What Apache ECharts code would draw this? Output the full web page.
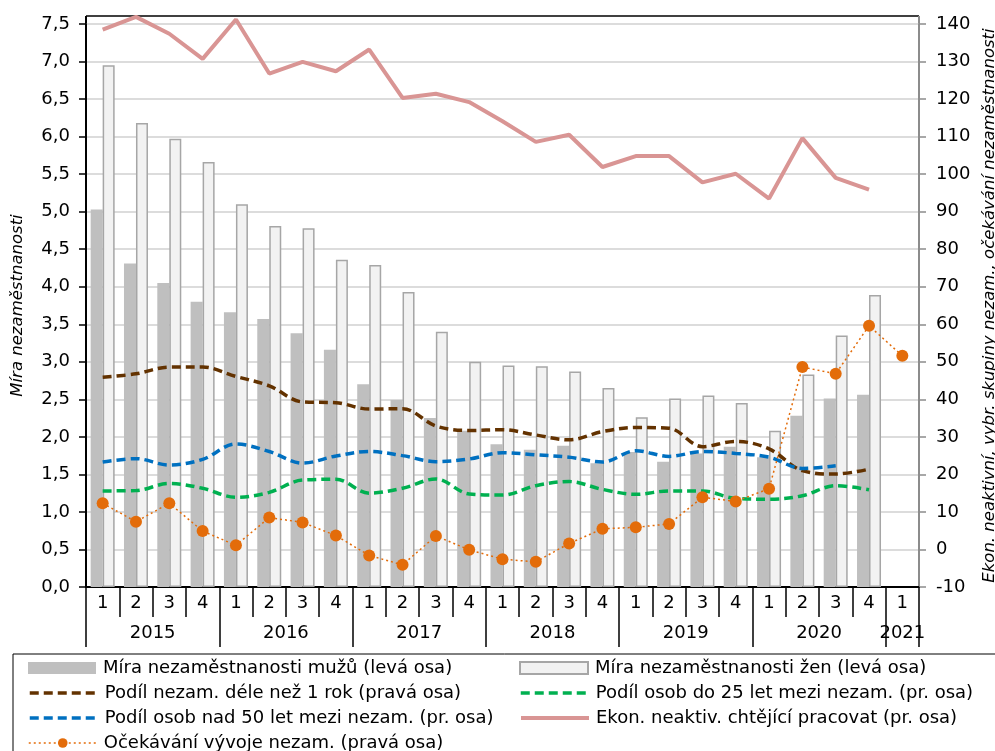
<!DOCTYPE html>
<html><head><meta charset="utf-8">
<script src="https://cdn.jsdelivr.net/npm/echarts@6/dist/echarts.min.js"></script>
<style>html,body{margin:0;padding:0;background:#fff}#c{width:995px;height:751px}</style>
</head><body><div id="c"></div>
<script>
const quarters = ["1","2","3","4","1","2","3","4","1","2","3","4","1","2","3","4","1","2","3","4","1","2","3","4","1"];
const years = ["2015","2016","2017","2018","2019","2020","2021"];
const quartersPerYear = [4,4,4,4,4,4,1];
const leftTicks = {min:0, max:7.5, interval:0.5};
const rightTicks = {min:-10, max:140, interval:10};

const menRate = [5.03,4.31,4.05,3.80,3.66,3.57,3.38,3.16,2.70,2.49,2.25,2.08,1.90,1.83,1.88,1.65,1.80,1.67,1.78,1.87,1.73,2.28,2.51,2.56,null];
const womenRate = [6.95,6.18,5.97,5.66,5.10,4.81,4.78,4.36,4.29,3.93,3.40,3.00,2.95,2.94,2.87,2.65,2.26,2.51,2.55,2.45,2.08,2.83,3.35,3.89,null];
const longTerm = [45.9,46.8,48.6,48.6,46.1,43.6,39.3,39.1,37.4,37.5,32.9,31.7,31.9,30.5,29.2,31.4,32.5,32.3,27.4,28.8,26.8,21.0,20.1,21.4,null];
const under25 = [15.6,15.7,17.6,16.3,13.9,15.2,18.5,18.7,15.0,16.3,18.8,14.8,14.5,17.0,18.1,16.0,14.7,15.6,15.6,13.6,13.4,14.3,17.0,15.9,null];
const over50 = [23.3,24.2,22.5,24.0,28.1,26.1,23.0,24.9,26.1,25.0,23.4,24.1,25.8,25.2,24.6,23.3,26.3,24.8,26.1,25.6,24.6,21.6,22.3,null,null];
const inactiveWanting = [138.5,141.9,137.4,130.7,141.2,126.8,129.9,127.4,133.2,120.3,121.4,119.2,114.1,108.6,110.5,101.9,104.8,104.8,97.8,100.1,93.5,109.6,99.0,95.9,null];
const expectation = [12.3,7.4,12.3,4.9,1.1,8.5,7.2,3.7,-1.6,-4.1,3.6,-0.1,-2.6,-3.3,1.6,5.5,5.9,6.8,13.9,12.8,16.2,48.6,46.8,59.6,51.6];

const names = {
  men: "Míra nezaměstnanosti mužů (levá osa)",
  women: "Míra nezaměstnanosti žen (levá osa)",
  longTerm: "Podíl nezam. déle než 1 rok (pravá osa)",
  under25: "Podíl osob do 25 let mezi nezam. (pr. osa)",
  over50: "Podíl osob nad 50 let mezi nezam. (pr. osa)",
  inactive: "Ekon. neaktiv. chtějící pracovat (pr. osa)",
  expect: "Očekávání vývoje nezam. (pravá osa)"
};

// year axis: half-quarter grid (boundaryGap false), labels at year centres, ticks at year boundaries
const nHalf = quarters.length * 2 + 1;
const yearAxisData = new Array(nHalf).fill("");
const yearLabelIdx = new Set();
const yearTickIdx = new Set();
let start = 0;
years.forEach((y, k) => {
  const c = start * 2 + quartersPerYear[k];
  yearAxisData[c] = y;
  yearLabelIdx.add(c);
  yearTickIdx.add(start * 2);
  start += quartersPerYear[k];
});
yearTickIdx.add(start * 2);

const FONT = "DejaVu Sans, Liberation Sans, sans-serif";
const chart = echarts.init(document.getElementById('c'), null, {renderer:'canvas'});
const comma = v => v.toFixed(1).replace('.', ',');

const legendRows = [
  {name: names.men, left: 28, cy: 670, icon: 'rect'},
  {name: names.women, left: 519, cy: 670, icon: 'rect'},
  {name: names.longTerm, left: 28, cy: 695, hideSymbol: true, lw: 3.5},
  {name: names.under25, left: 519, cy: 695, hideSymbol: true, lw: 3.5},
  {name: names.over50, left: 28, cy: 720, hideSymbol: true, lw: 3.5},
  {name: names.inactive, left: 519, cy: 720, hideSymbol: true, lw: 4},
  {name: names.expect, left: 28, cy: 745, lw: 1.5}
];
const legends = legendRows.map(r => {
  const l = {
    data: [r.name], orient: 'horizontal', left: r.left, top: r.cy - 11, padding: 0,
    itemWidth: 68, itemHeight: 12, selectedMode: false,
    textStyle: {fontSize: 18, fontFamily: FONT, color: '#000', padding: [0, 0, 0, 2]}
  };
  if (r.icon) l.icon = r.icon;
  if (r.hideSymbol) l.itemStyle = {opacity: 0};
  if (r.lw) l.lineStyle = {width: r.lw};
  return l;
});

chart.setOption({
  animation: false,
  textStyle: {fontFamily: FONT, color: '#000'},
  grid: {left: 86, right: 76, top: 24, bottom: 164, containLabel: false, outerBoundsMode: 'none'},
  legend: legends,
  xAxis: [
    {
      type: 'category', data: quarters, position: 'bottom',
      axisLine: {onZero: false, lineStyle: {color: '#000', width: 2}},
      axisTick: {show: true, interval: 0, length: 30, lineStyle: {color: '#000', width: 1.5}},
      axisLabel: {interval: 0, fontSize: 18, margin: 7, color: '#000', fontFamily: FONT},
      splitLine: {show: false}
    },
    {
      type: 'category', data: yearAxisData, position: 'bottom', boundaryGap: false,
      axisLine: {show: false, onZero: false},
      axisTick: {show: true, length: 60, interval: (i) => yearTickIdx.has(i), lineStyle: {color: '#000', width: 1.5}},
      axisLabel: {interval: (i) => yearLabelIdx.has(i), fontSize: 18, margin: 37, color: '#000', fontFamily: FONT},
      splitLine: {show: false}
    }
  ],
  yAxis: [
    {
      type: 'value', position: 'left', min: leftTicks.min, max: leftTicks.max, interval: leftTicks.interval,
      name: 'Míra nezaměstnanosti', nameLocation: 'middle', nameGap: 60, nameRotate: 90,
      nameTextStyle: {fontStyle: 'italic', fontSize: 16.5, fontFamily: FONT, color: '#000'},
      axisLine: {show: true, onZero: false, lineStyle: {color: '#000', width: 2}},
      axisTick: {show: true, length: 7, lineStyle: {color: '#000', width: 1.5}},
      axisLabel: {fontSize: 18, margin: 16, color: '#000', formatter: comma, fontFamily: FONT},
      splitLine: {show: true, lineStyle: {color: '#d0d0d0', width: 1.5}}
    },
    {
      type: 'value', position: 'right', min: rightTicks.min, max: rightTicks.max, interval: rightTicks.interval,
      name: 'Ekon. neaktivní, vybr. skupiny nezam., očekávání nezaměstnanosti', nameLocation: 'middle', nameGap: 52, nameRotate: 90,
      nameTextStyle: {fontStyle: 'italic', fontSize: 16.5, fontFamily: FONT, color: '#000'},
      axisLine: {show: true, onZero: false, lineStyle: {color: '#8c8c8c', width: 2}},
      axisTick: {show: true, length: 7, lineStyle: {color: '#8c8c8c', width: 1.5}},
      axisLabel: {fontSize: 18, margin: 17, color: '#000', fontFamily: FONT},
      splitLine: {show: false}
    }
  ],
  series: [
    {name: names.men, type: 'bar', data: menRate, yAxisIndex: 0, barGap: '0%', barCategoryGap: '28%',
     itemStyle: {color: '#bfbfbf'}, z: 1},
    {name: names.women, type: 'bar', data: womenRate, yAxisIndex: 0, barGap: '0%', barCategoryGap: '28%',
     itemStyle: {color: '#f2f2f2', borderColor: '#a6a6a6', borderWidth: 1.5}, z: 1},
    {name: names.longTerm, type: 'line', data: longTerm, yAxisIndex: 1, smooth: 0.35, symbol: 'none',
     lineStyle: {color: '#633200', width: 3.5, type: [9, 5]}, itemStyle: {color: '#633200'}, z: 3},
    {name: names.under25, type: 'line', data: under25, yAxisIndex: 1, smooth: 0.35, symbol: 'none',
     lineStyle: {color: '#00b050', width: 3.5, type: [9, 5]}, itemStyle: {color: '#00b050'}, z: 3},
    {name: names.over50, type: 'line', data: over50, yAxisIndex: 1, smooth: 0.35, symbol: 'none',
     lineStyle: {color: '#0070c0', width: 3.5, type: [9, 5]}, itemStyle: {color: '#0070c0'}, z: 3},
    {name: names.inactive, type: 'line', data: inactiveWanting, yAxisIndex: 1, smooth: false, symbol: 'none', clip: false,
     lineStyle: {color: '#d99594', width: 4}, itemStyle: {color: '#d99594'}, z: 3},
    {name: names.expect, type: 'line', data: expectation, yAxisIndex: 1, smooth: false, symbol: 'circle', symbolSize: 12,
     lineStyle: {color: '#e36c0a', width: 1.5, type: [2, 3]}, itemStyle: {color: '#e36c0a'}, z: 4}
  ],
  graphic: [
    {type: 'line', shape: {x1: 86, y1: 16, x2: 919, y2: 16}, style: {stroke: '#000', lineWidth: 1.5}, silent: true},
    {type: 'line', shape: {x1: 86, y1: 16, x2: 86, y2: 25}, style: {stroke: '#000', lineWidth: 2}, silent: true},
    {type: 'line', shape: {x1: 919, y1: 16, x2: 919, y2: 25}, style: {stroke: '#8c8c8c', lineWidth: 2}, silent: true},
    {type: 'rect', shape: {x: 13, y: 654, width: 1000, height: 120}, style: {fill: 'none', stroke: '#000', lineWidth: 1}, silent: true, z: -1}
  ]
});
</script>
</body></html>
